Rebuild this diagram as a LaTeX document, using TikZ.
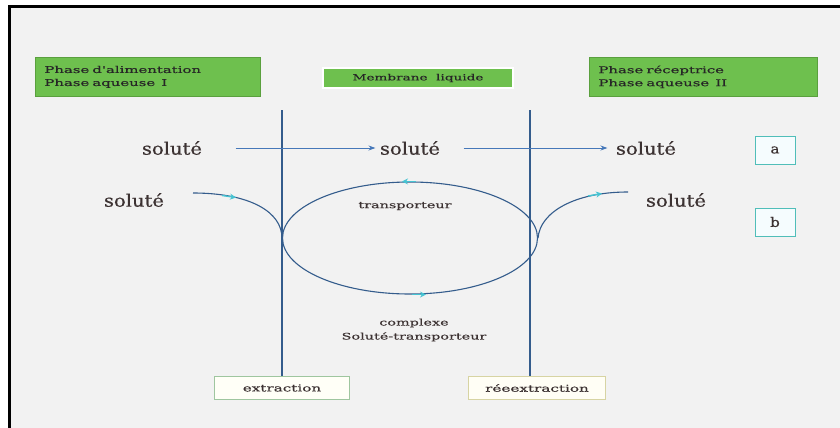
\documentclass[tikz,border=0pt]{standalone}
\usepackage{fontspec}
\setmainfont{DejaVu Serif}
\newfontfamily\widefont[FakeStretch=1.6,FakeBold=0.3]{DejaVu Serif}
\newfontfamily\solfont[FakeStretch=1.15,FakeBold=0.5]{DejaVu Serif}
\usetikzlibrary{shapes.geometric,arrows.meta}
\definecolor{bg}{RGB}{242,242,242}
\definecolor{gfill}{RGB}{110,192,78}
\definecolor{gdraw}{RGB}{90,160,62}
\definecolor{linecol}{RGB}{52,92,140}
\definecolor{arrcol}{RGB}{70,120,185}
\definecolor{tealc}{RGB}{70,195,210}
\definecolor{boxteal}{RGB}{80,190,185}
\definecolor{txt}{RGB}{60,50,50}
\tikzset{
  phasebox/.style={draw=gdraw, fill=gfill, line width=0.8pt, align=left, anchor=north west,
     font=\widefont\fontsize{9.3}{13}\selectfont, inner xsep=9pt, text=black!85},
  soltext/.style={font=\solfont\fontsize{17}{18}\selectfont, text=txt},
  smalltext/.style={font=\widefont\fontsize{9}{14}\selectfont, text=txt, align=center},
  letterbox/.style={draw=boxteal, fill=white!96!cyan, line width=1pt, minimum width=40pt, minimum height=28pt,
     font=\solfont\fontsize{13}{14}\selectfont, text=txt},
  membline/.style={draw=linecol, line width=1.2pt},
  harrow/.style={draw=arrcol, line width=1pt, -{Stealth[length=7pt,width=5pt]}},
  curveline/.style={draw=linecol, line width=1.1pt},
  tealtip/.style={draw=tealc, line width=1.4pt, -{Stealth[length=6pt,width=6pt]}},
  stagebox/.style={line width=0.9pt, minimum width=135pt, minimum height=23pt, font=\widefont\fontsize{9.5}{11}\selectfont, text=txt},
}
\begin{document}
\begin{tikzpicture}[x=1pt,y=-1pt]
\useasboundingbox (0,0) rectangle (840,428);
\clip (0,0) rectangle (840,428);
\fill[white] (0,0) rectangle (840,428);
\draw[fill=bg, line width=3pt] (9,7) rectangle (850,440);

% phase boxes
\node[phasebox, minimum width=225pt, minimum height=39pt, text width=207pt] (p1) at (35,57) {Phase d'alimentation\\Phase aqueuse\ \ I};
\node[draw=white, line width=1.5pt, fill=gfill, minimum width=190pt, minimum height=20pt,
      font=\widefont\fontsize{8.5}{10}\selectfont, text=black!85] (mem) at (418,78) {Membrane\ \ liquide};
\node[phasebox, minimum width=228pt, minimum height=39pt, text width=210pt] (p2) at (589,57) {Phase réceptrice\\Phase aqueuse\ \ II};

% membrane lines
\coordinate (l1t) at (282,110);
\coordinate (l2t) at (530,110);

% stage boxes
\node[stagebox, draw=green!25!gray!60, fill=white!90!yellow!30] (ext) at (282,388) {extraction};
\node[stagebox, draw=yellow!40!gray!60, fill=white!90!yellow!40, minimum width=137pt] (reext) at (537,388) {réeextraction};

\draw[membline] (l1t) -- (ext.north -| l1t);
\draw[membline] (l2t) -- ([xshift=-7pt]reext.north);

% row a
\node[soltext] (sa1) at (172,148) {soluté};
\node[soltext] (sa2) at (410,148) {soluté};
\node[soltext] (sa3) at (646,148) {soluté};
\draw[harrow] ([xshift=30pt]sa1.east) -- ([xshift=-1pt]sa2.west);
\draw[harrow] ([xshift=20pt]sa2.east) -- ([xshift=-5pt]sa3.west);

\node[letterbox] (ba) at (775,150) {a};
\node[letterbox] (bb) at (775,222) {b};

% row b
\node[soltext] (sb1) at (134,200) {soluté};
\node[soltext] (sb2) at (676,200) {soluté};

\node[ellipse, curveline, minimum width=255pt, minimum height=112pt, inner sep=0pt] (ell) at (410,238) {};

\coordinate (cl) at (193,193);
\coordinate (cr) at (628,192);
\draw[curveline] (cl) .. controls (250,193) and (282,212) .. (ell.west);
\draw[curveline] (ell.east) .. controls (540,212) and (575,192) .. (cr);

% teal arrow markers
\draw[tealtip] (222,195.5) -- (236,197.5);
\draw[tealtip] (588,196) -- (602,193.5);
\draw[tealtip] ([xshift=6pt]ell.north) -- ([xshift=-8pt]ell.north);
\draw[tealtip] ([xshift=2pt]ell.south) -- ([xshift=16pt]ell.south);

% labels
\node[smalltext] (tr) at (405,206) {transporteur};
\node[smalltext] (cx) at (414,330) {complexe\\Soluté-transporteur};
\end{tikzpicture}
\end{document}
